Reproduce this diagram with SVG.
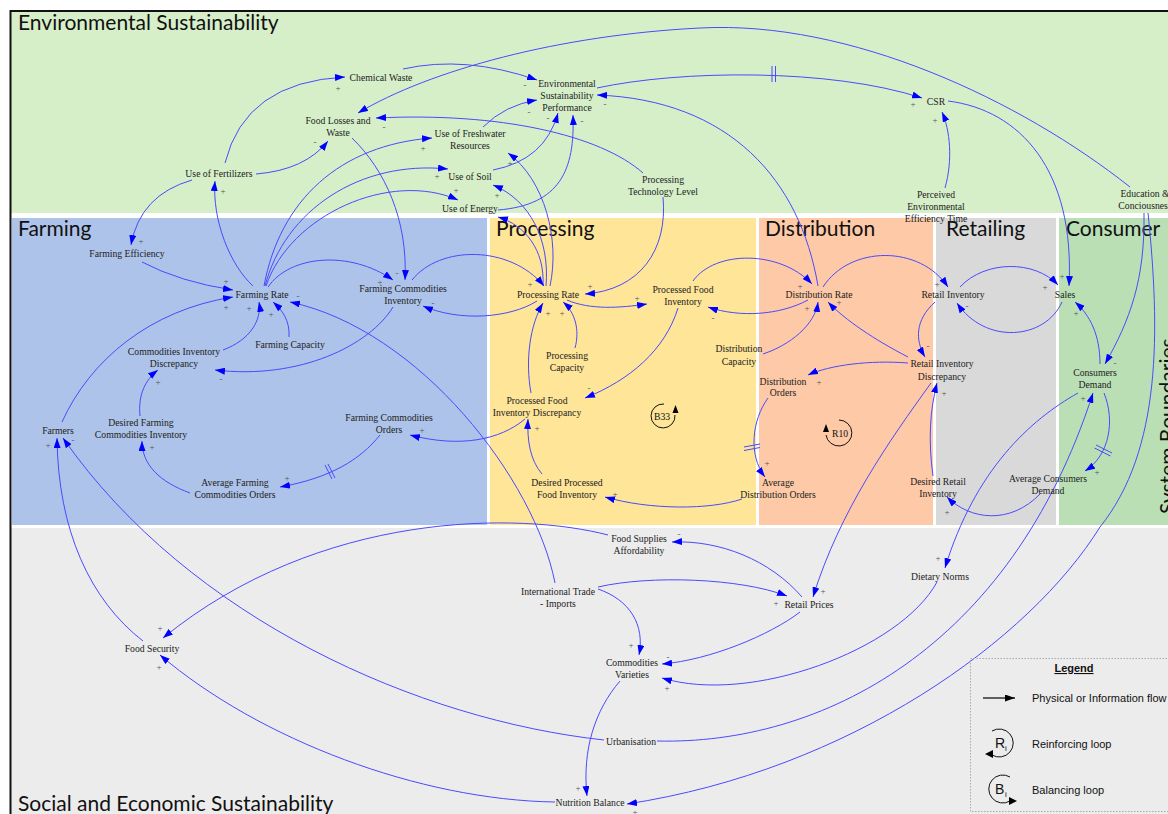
<svg xmlns="http://www.w3.org/2000/svg" width="1168" height="814" viewBox="0 0 1168 814">
<defs>
<marker id="a" viewBox="0 0 10 7" refX="10" refY="3.5" markerWidth="10" markerHeight="7" markerUnits="userSpaceOnUse" orient="auto"><path d="M0,0 L10,3.5 L0,7 z" fill="#0000ff"/></marker>
<marker id="k" viewBox="0 0 10 7" refX="10" refY="3.5" markerWidth="10" markerHeight="7" markerUnits="userSpaceOnUse" orient="auto"><path d="M0,0 L10,3.5 L0,7 z" fill="#000"/></marker>
<style>
.t{font-family:"Liberation Serif","Times New Roman",serif;font-size:9.7px;fill:#222;text-anchor:middle}
.s{font-family:"Liberation Serif","Times New Roman",serif;font-size:9px;fill:#555;text-anchor:middle}
.h{font-family:Lato,"Liberation Sans",sans-serif;font-size:21px;fill:#111}
.c path{fill:none;stroke:#4a4aff;stroke-width:1;marker-end:url(#a)}
.hat line{stroke:#4a4aff;stroke-width:1}
.lg{font-family:"Liberation Sans",Arial,sans-serif;font-size:11px;fill:#111}
.lp{fill:none;stroke:#111;stroke-width:1}
</style>
</defs>
<rect x="0" y="0" width="1168" height="814" fill="#fff"/>
<g id="bands">
<rect x="11" y="12" width="1157" height="201" fill="#d6efc9"/>
<rect x="12" y="218" width="475" height="307" fill="#adc3e9"/>
<rect x="490" y="218" width="266" height="307" fill="#fee598"/>
<rect x="759" y="218" width="174" height="307" fill="#fdc9a6"/>
<rect x="936" y="218" width="120" height="307" fill="#d9d9d9"/>
<rect x="1059" y="218" width="109" height="307" fill="#badfb5"/>
<rect x="11" y="528" width="1157" height="286" fill="#ececec"/>
<path d="M10.5,814 V11 H1168" fill="none" stroke="#111" stroke-width="2"/>
</g>
<g id="titles">
<text class="h" x="18" y="30">Environmental Sustainability</text>
<text class="h" x="18" y="236">Farming</text>
<text class="h" x="496" y="236">Processing</text>
<text class="h" x="765" y="236">Distribution</text>
<text class="h" x="946" y="236">Retailing</text>
<text class="h" x="1066" y="236">Consumer</text>
<text class="h" x="18" y="811">Social and Economic Sustainability</text>
<text class="h" transform="translate(1175,514) rotate(-90)">System Boundaries</text>
</g>
<g id="connectors" class="c">
<path d="M225,163 Q245,82 345,77"/>
<path d="M256,174 Q305,170 328,141"/>
<path d="M192,180 Q140,195 131,245"/>
<path d="M253,286 C230,265 212,220 215,181"/>
<path d="M403,69 Q465,55 537,80"/>
<path d="M1130,187 C1020,100 850,20 700,28 C560,35 430,70 358,113"/>
<path d="M643,173 C600,135 500,112 376,118"/>
<path d="M663,197 C668,250 640,290 585,294"/>
<path d="M483,127 Q505,105 537,100"/>
<path d="M493,170 Q545,160 558,113"/>
<path d="M498,210 C560,205 575,170 573,115"/>
<path d="M264,286 C280,200 340,145 432,138"/>
<path d="M265,286 C285,210 360,160 448,169"/>
<path d="M266,286 C290,215 390,170 458,200"/>
<path d="M550,286 C560,240 545,180 508,153"/>
<path d="M546,286 C550,240 530,200 493,185"/>
<path d="M543,286 C545,250 525,225 498,217"/>
<path d="M818,286 C800,180 730,100 597,95"/>
<path d="M597,88 C680,70 830,68 922,98"/>
<path d="M945,188 C953,160 950,130 942,112"/>
<path d="M948,101 C1020,110 1075,170 1069,286"/>
<path d="M1144,213 C1145,280 1130,320 1105,364"/>
<path d="M1148,213 C1160,330 1162,450 1100,527 C1030,640 850,770 627,804"/>
<path d="M142,262 Q180,282 233,290"/>
<path d="M62,422 C90,360 150,310 233,297"/>
<path d="M223,350 C250,340 262,320 259,302"/>
<path d="M289,337 C290,320 282,310 273,302"/>
<path d="M555,583 C535,480 420,330 290,302"/>
<path d="M268,287 C290,255 350,250 393,280"/>
<path d="M352,138 C385,170 408,220 405,280"/>
<path d="M412,280 C440,245 510,245 544,286"/>
<path d="M537,301 C510,318 460,322 423,306"/>
<path d="M393,307 C370,345 300,380 215,370"/>
<path d="M140,416 C138,395 145,380 158,370"/>
<path d="M190,493 C160,482 142,465 142,441"/>
<path d="M380,435 C360,460 330,478 280,487"/>
<path d="M525,419 C500,440 460,448 410,435"/>
<path d="M143,641 C90,600 58,530 57,438"/>
<path d="M604,740 C420,720 190,620 63,438"/>
<path d="M608,535 C520,512 320,510 163,638"/>
<path d="M802,597 C770,560 720,540 672,542"/>
<path d="M598,587 C650,575 740,578 787,596"/>
<path d="M598,589 C630,600 645,625 639,655"/>
<path d="M800,612 C770,635 710,660 662,664"/>
<path d="M931,383 C890,440 840,510 813,597"/>
<path d="M1078,393 C1030,420 975,470 945,568"/>
<path d="M657,741 C820,745 1010,650 1093,393"/>
<path d="M1100,364 C1100,335 1090,315 1075,302"/>
<path d="M1104,393 C1115,420 1110,455 1085,471"/>
<path d="M1040,494 C1010,525 970,520 947,497"/>
<path d="M933,476 C928,440 930,410 937,383"/>
<path d="M935,302 C915,320 915,340 925,357"/>
<path d="M908,363 C870,360 830,365 808,375"/>
<path d="M908,357 C875,340 845,320 828,302"/>
<path d="M768,398 C752,420 748,455 765,477"/>
<path d="M742,499 C710,510 650,510 605,497"/>
<path d="M542,474 C530,460 527,440 528,419"/>
<path d="M531,393 C525,360 530,325 543,303"/>
<path d="M575,348 C580,330 575,312 563,302"/>
<path d="M567,300 C590,310 620,308 647,304"/>
<path d="M678,308 C665,350 630,380 585,398"/>
<path d="M693,281 C715,250 780,250 812,284"/>
<path d="M808,300 C780,315 740,318 708,307"/>
<path d="M763,354 C790,345 815,325 818,302"/>
<path d="M823,287 C850,245 920,245 948,287"/>
<path d="M960,287 C985,260 1035,260 1058,285"/>
<path d="M1062,302 C1045,340 985,345 957,303"/>
<path d="M620,681 C595,710 582,750 587,796"/>
<path d="M555,802 C420,800 260,740 160,655"/>
<path d="M937,582 C900,650 750,705 662,678"/>
<g class="hat">
<line x1="772" y1="66" x2="772" y2="82"/><line x1="775.5" y1="66" x2="775.5" y2="82"/>
<line x1="325" y1="465" x2="332" y2="479"/><line x1="328" y1="464" x2="335" y2="478"/>
<line x1="744" y1="447" x2="760" y2="444"/><line x1="744" y1="450.5" x2="760" y2="447.5"/>
<line x1="1096" y1="445" x2="1112" y2="453"/><line x1="1094.5" y1="448" x2="1110.5" y2="456"/>
</g>
</g>
<g id="signs">
<text class="s" x="338" y="91">+</text><text class="s" x="223" y="194">+</text><text class="s" x="141" y="244">+</text>
<text class="s" x="315" y="145">-</text><text class="s" x="384" y="130">-</text><text class="s" x="525" y="88">-</text>
<text class="s" x="529" y="115">-</text><text class="s" x="548" y="121">-</text><text class="s" x="582" y="124">-</text>
<text class="s" x="605" y="107">-</text><text class="s" x="423" y="151">+</text><text class="s" x="437" y="179">+</text>
<text class="s" x="510" y="166">+</text><text class="s" x="456" y="193">+</text><text class="s" x="497" y="198">+</text>
<text class="s" x="913" y="107">+</text><text class="s" x="935" y="123">+</text>
<text class="s" x="226" y="284">+</text><text class="s" x="226" y="310">+</text><text class="s" x="249" y="311">+</text>
<text class="s" x="271" y="317">+</text><text class="s" x="298" y="299">-</text><text class="s" x="397" y="276">-</text>
<text class="s" x="380" y="285">+</text><text class="s" x="433" y="306">-</text><text class="s" x="158" y="385">+</text>
<text class="s" x="221" y="382">-</text><text class="s" x="152" y="450">+</text><text class="s" x="287" y="481">+</text>
<text class="s" x="422" y="433">+</text><text class="s" x="48" y="448">+</text><text class="s" x="73" y="443">-</text>
<text class="s" x="530" y="287">+</text><text class="s" x="590" y="289">+</text><text class="s" x="548" y="316">+</text>
<text class="s" x="562" y="316">+</text><text class="s" x="637" y="301">+</text><text class="s" x="713" y="321">-</text>
<text class="s" x="589" y="391">-</text><text class="s" x="537" y="431">+</text><text class="s" x="615" y="497">+</text>
<text class="s" x="800" y="289">+</text><text class="s" x="807" y="311">+</text><text class="s" x="839" y="305">+</text>
<text class="s" x="937" y="287">+</text><text class="s" x="967" y="309">-</text><text class="s" x="1045" y="290">+</text>
<text class="s" x="1062" y="279">+</text><text class="s" x="1076" y="316">+</text><text class="s" x="928" y="349">-</text>
<text class="s" x="944" y="396">+</text><text class="s" x="819" y="385">+</text><text class="s" x="767" y="466">+</text>
<text class="s" x="947" y="515">+</text><text class="s" x="1115" y="366">-</text><text class="s" x="1083" y="401">+</text>
<text class="s" x="1097" y="475">+</text>
<text class="s" x="679" y="537">-</text><text class="s" x="823" y="594">+</text><text class="s" x="776" y="606">+</text>
<text class="s" x="631" y="648">+</text><text class="s" x="668" y="660">-</text><text class="s" x="667" y="691">+</text>
<text class="s" x="938" y="561">+</text><text class="s" x="578" y="791">+</text><text class="s" x="635" y="815">+</text>
<text class="s" x="160" y="631">+</text><text class="s" x="159" y="670">+</text>
</g>
<g id="n-chemical-waste"><text class="t" x="381" y="80.5">Chemical Waste</text></g>
<g id="n-esp"><text class="t" x="567" y="86.5">Environmental</text><text class="t" x="567" y="98.5">Sustainability</text><text class="t" x="567" y="110.5">Performance</text></g>
<g id="n-food-losses"><text class="t" x="338" y="123.5">Food Losses and</text><text class="t" x="338" y="135.5">Waste</text></g>
<g id="n-freshwater"><text class="t" x="470" y="136.5">Use of Freshwater</text><text class="t" x="470" y="149">Resources</text></g>
<g id="n-csr"><text class="t" x="936" y="104.5">CSR</text></g>
<g id="n-fertilizers"><text class="t" x="219" y="176.5">Use of Fertilizers</text></g>
<g id="n-soil"><text class="t" x="470" y="179.5">Use of Soil</text></g>
<g id="n-ptl"><text class="t" x="663" y="182.5">Processing</text><text class="t" x="663" y="194.5">Technology Level</text></g>
<g id="n-energy"><text class="t" x="470" y="211.5">Use of Energy</text></g>
<g id="n-peet"><text class="t" x="936" y="197.5">Perceived</text><text class="t" x="936" y="209.5">Environmental</text><text class="t" x="936" y="221.5">Efficiency Time</text></g>
<g id="n-education"><text class="t" x="1145" y="196.5">Education &amp;</text><text class="t" x="1145" y="208.5">Conciousness</text></g>
<g id="n-farming-efficiency"><text class="t" x="127" y="256.5">Farming Efficiency</text></g>
<g id="n-farming-rate"><text class="t" x="262" y="297.5">Farming Rate</text></g>
<g id="n-fci"><text class="t" x="403" y="291.5">Farming Commodities</text><text class="t" x="403" y="304">Inventory</text></g>
<g id="n-farming-capacity"><text class="t" x="290" y="347.5">Farming Capacity</text></g>
<g id="n-cid"><text class="t" x="174" y="354.5">Commodities Inventory</text><text class="t" x="174" y="366.5">Discrepancy</text></g>
<g id="n-dfci"><text class="t" x="141" y="425.5">Desired Farming</text><text class="t" x="141" y="437.5">Commodities Inventory</text></g>
<g id="n-farmers"><text class="t" x="58" y="433.5">Farmers</text></g>
<g id="n-fco"><text class="t" x="389" y="420.5">Farming Commodities</text><text class="t" x="389" y="432.5">Orders</text></g>
<g id="n-afco"><text class="t" x="235" y="485.5">Average Farming</text><text class="t" x="235" y="497.5">Commodities Orders</text></g>
<g id="n-processing-rate"><text class="t" x="548" y="297.5">Processing Rate</text></g>
<g id="n-pfi"><text class="t" x="683" y="292.5">Processed Food</text><text class="t" x="683" y="304.5">Inventory</text></g>
<g id="n-processing-capacity"><text class="t" x="567" y="358.5">Processing</text><text class="t" x="567" y="370.5">Capacity</text></g>
<g id="n-pfid"><text class="t" x="537" y="403.5">Processed Food</text><text class="t" x="537" y="415.5">Inventory Discrepancy</text></g>
<g id="n-dpfi"><text class="t" x="567" y="485.5">Desired Processed</text><text class="t" x="567" y="497.5">Food Inventory</text></g>
<g id="n-distribution-capacity"><text class="t" x="739" y="351.5">Distribution</text><text class="t" x="739" y="364.5">Capacity</text></g>
<g id="n-distribution-rate"><text class="t" x="819" y="297.5">Distribution Rate</text></g>
<g id="n-distribution-orders"><text class="t" x="783" y="384.5">Distribution</text><text class="t" x="783" y="395.5">Orders</text></g>
<g id="n-ado"><text class="t" x="778" y="485.5">Average</text><text class="t" x="778" y="497.5">Distribution Orders</text></g>
<g id="n-retail-inventory"><text class="t" x="953" y="297.5">Retail Inventory</text></g>
<g id="n-rid"><text class="t" x="942" y="366.5">Retail Inventory</text><text class="t" x="942" y="379.5">Discrepancy</text></g>
<g id="n-dri"><text class="t" x="938" y="484.5">Desired Retail</text><text class="t" x="938" y="496.5">Inventory</text></g>
<g id="n-acd"><text class="t" x="1048" y="481.5">Average Consumers</text><text class="t" x="1048" y="493.5">Demand</text></g>
<g id="n-sales"><text class="t" x="1065" y="297.5">Sales</text></g>
<g id="n-consumers-demand"><text class="t" x="1095" y="375.5">Consumers</text><text class="t" x="1095" y="387.5">Demand</text></g>
<g id="n-fsa"><text class="t" x="639" y="541.5">Food Supplies</text><text class="t" x="639" y="553.5">Affordability</text></g>
<g id="n-iti"><text class="t" x="558" y="594.5">International Trade</text><text class="t" x="558" y="606.5">- Imports</text></g>
<g id="n-retail-prices"><text class="t" x="809" y="607.5">Retail Prices</text></g>
<g id="n-dietary-norms"><text class="t" x="940" y="579.5">Dietary Norms</text></g>
<g id="n-cv"><text class="t" x="632" y="665.5">Commodities</text><text class="t" x="632" y="677.5">Varieties</text></g>
<g id="n-food-security"><text class="t" x="152" y="651.5">Food Security</text></g>
<g id="n-urbanisation"><text class="t" x="631" y="744.5">Urbanisation</text></g>
<g id="n-nutrition-balance"><text class="t" x="590" y="805.5">Nutrition Balance</text></g>
<g id="loops">
<path class="lp" d="M664,404 A12,12 0 1 0 675,415"/>
<path d="M675.5,405 L672.5,413 L678.5,413 z" fill="#000"/>
<text class="t" x="662" y="419.5" style="fill:#111">B33</text>
<path class="lp" d="M839,420 A13,13 0 1 1 826,435"/>
<path d="M826,424 L823,432 L829,432 z" fill="#000"/>
<text class="t" x="840" y="436.5" style="fill:#111">R10</text>
</g>
<g id="legend">
<rect x="970.5" y="658.5" width="210" height="153" fill="none" stroke="#aaa" stroke-dasharray="1.5,1.5"/>
<text class="lg" x="1074" y="672" text-anchor="middle" font-weight="bold" text-decoration="underline">Legend</text>
<line x1="983" y1="698" x2="1015" y2="698" stroke="#000" stroke-width="1.2" marker-end="url(#k)"/>
<text class="lg" x="1032" y="702">Physical or Information flow</text>
<path class="lp" d="M992,731 A14,14 0 1 1 992,755"/>
<path d="M985,754 L993,750 L993,758 z" fill="#000"/>
<text x="995" y="748" style="font-family:'Liberation Sans',Arial,sans-serif;font-size:14px;fill:#111">R</text>
<text x="1005" y="751" style="font-family:'Liberation Sans',Arial,sans-serif;font-size:8px;fill:#111">i</text>
<text class="lg" x="1032" y="748">Reinforcing loop</text>
<path class="lp" d="M1010,777 A14,14 0 1 0 1010,801"/>
<path d="M1017,801 L1009,797 L1009,805 z" fill="#000"/>
<text x="995" y="794" style="font-family:'Liberation Sans',Arial,sans-serif;font-size:14px;fill:#111">B</text>
<text x="1005" y="797" style="font-family:'Liberation Sans',Arial,sans-serif;font-size:8px;fill:#111">i</text>
<text class="lg" x="1032" y="794">Balancing loop</text>
</g>
</svg>
